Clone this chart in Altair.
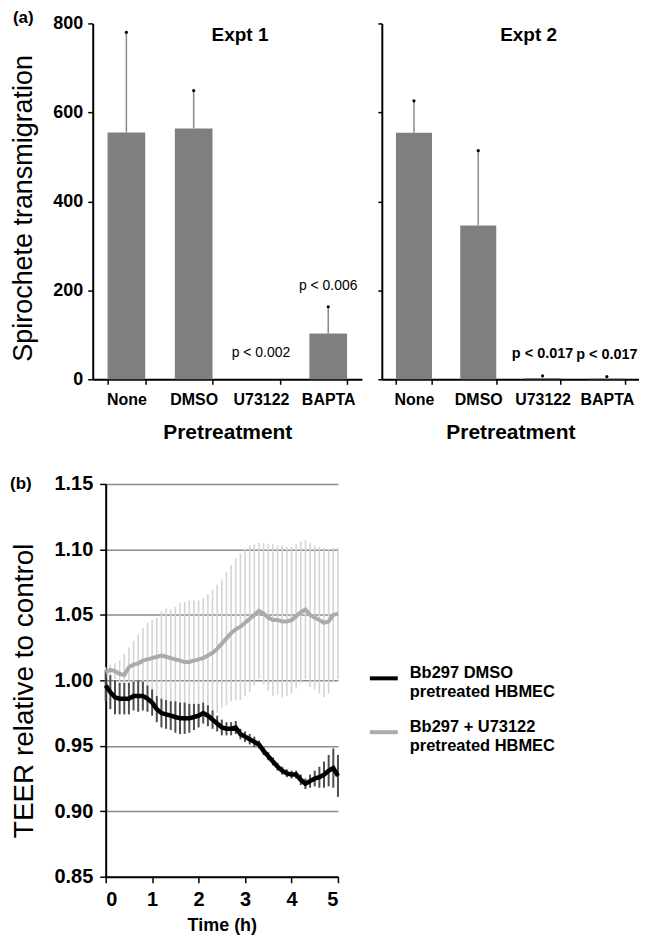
import altair as alt
import pandas as pd

# ---------------- Panel (a) data ----------------
categories = ["None", "DMSO", "U73122", "BAPTA"]
expt1_mean = [555, 564, 0, 103]
expt1_err = [225, 85, 0, 60]
expt2_mean = [554, 346, 3, 2]
expt2_err = [72, 168, 5, 4]
expt1_pvals = ["", "", "p < 0.002", "p < 0.006"]
expt2_pvals = ["", "", "p < 0.017", "p < 0.017"]

# ---------------- Panel (b) data ----------------
time_h = [0.0, 0.1, 0.2, 0.3, 0.4, 0.5, 0.6, 0.7, 0.8, 0.9,
          1.0, 1.1, 1.2, 1.3, 1.4, 1.5, 1.6, 1.7, 1.8, 1.9,
          2.0, 2.1, 2.2, 2.3, 2.4, 2.5, 2.6, 2.7, 2.8, 2.9,
          3.0, 3.1, 3.2, 3.3, 3.4, 3.5, 3.6, 3.7, 3.8, 3.9,
          4.0, 4.1, 4.2, 4.3, 4.4, 4.5, 4.6, 4.7, 4.8, 4.9,
          5.0]
dmso_mean = [0.996, 0.991, 0.987, 0.986, 0.986, 0.986, 0.988, 0.988, 0.988, 0.986,
             0.983, 0.978, 0.975, 0.974, 0.973, 0.972, 0.971, 0.971, 0.971, 0.972,
             0.973, 0.975, 0.973, 0.970, 0.967, 0.964, 0.963, 0.963, 0.964, 0.959,
             0.957, 0.955, 0.953, 0.951, 0.946, 0.942, 0.938, 0.934, 0.931, 0.929,
             0.928, 0.928, 0.924, 0.921, 0.923, 0.925, 0.926, 0.928, 0.931, 0.933,
             0.927]
dmso_err = [0.012, 0.013, 0.013, 0.012, 0.012, 0.012, 0.011, 0.012, 0.011, 0.010,
            0.010, 0.010, 0.011, 0.011, 0.011, 0.012, 0.012, 0.012, 0.011, 0.010,
            0.009, 0.008, 0.008, 0.007, 0.006, 0.006, 0.005, 0.005, 0.005, 0.004,
            0.004, 0.004, 0.004, 0.003, 0.003, 0.003, 0.003, 0.003, 0.003, 0.003,
            0.003, 0.003, 0.004, 0.004, 0.005, 0.006, 0.008, 0.010, 0.012, 0.015,
            0.016]
u73122_mean = [1.006, 1.008, 1.007, 1.005, 1.004, 1.010, 1.012, 1.013, 1.015, 1.016,
               1.017, 1.018, 1.019, 1.018, 1.017, 1.016, 1.015, 1.014, 1.014, 1.015,
               1.016, 1.017, 1.019, 1.021, 1.024, 1.028, 1.032, 1.036, 1.039, 1.041,
               1.044, 1.047, 1.050, 1.053, 1.051, 1.048, 1.046, 1.046, 1.045, 1.045,
               1.046, 1.049, 1.052, 1.054, 1.050, 1.048, 1.046, 1.044, 1.045, 1.050,
               1.051]
u73122_err = [0.004, 0.004, 0.006, 0.010, 0.016, 0.015, 0.018, 0.022, 0.025, 0.028,
              0.029, 0.030, 0.034, 0.037, 0.037, 0.040, 0.044, 0.046, 0.047, 0.046,
              0.045, 0.046, 0.047, 0.048, 0.049, 0.049, 0.051, 0.052, 0.054, 0.056,
              0.056, 0.056, 0.054, 0.052, 0.054, 0.056, 0.058, 0.057, 0.058, 0.057,
              0.056, 0.055, 0.054, 0.053, 0.055, 0.055, 0.056, 0.057, 0.055, 0.051,
              0.050]
series_names = ["Bb297  DMSO|pretreated HBMEC", "Bb297 + U73122|pretreated HBMEC"]

FONT = "Liberation Sans"


def spacer():
    return alt.Chart(pd.DataFrame({"a": [0]})).mark_rule(opacity=0).encode(
        x=alt.value(0), y=alt.value(0), y2=alt.value(1)).properties(width=1, height=1)


def bar_panel(mean, err, pvals, title, width, first, pbold, pdys, title_dx):
    df = pd.DataFrame({"cat": categories, "m": mean, "e": err, "p": pvals})
    base = alt.Chart(df).transform_calculate(top="datum.m + datum.e")
    xenc = alt.X(
        "cat:N", sort=categories,
        scale=alt.Scale(paddingInner=0.44, paddingOuter=0.22),
        axis=alt.Axis(title="Pretreatment", labelAngle=0, tickBand="extent",
                      tickSize=5, labelPadding=7, labelFontSize=16,
                      labelFontWeight="bold", titleFontSize=21,
                      titleFontWeight="bold", titlePadding=14),
    )
    if first:
        yaxis = alt.Axis(values=[0, 200, 400, 600, 800], grid=False, tickSize=5,
                         labelPadding=5, labelFontSize=18, labelFontWeight="bold",
                         title="Spirochete transmigration", titleFontSize=27,
                         titleFontWeight="normal", titleX=-69, titleY=185,
                         titleAngle=-90, titleAlign="center",
                         titleBaseline="middle")
    else:
        yaxis = alt.Axis(values=[0, 200, 400, 600, 800], grid=False, tickSize=4,
                         labels=False, title=None)
    yenc = alt.Y("m:Q", scale=alt.Scale(domain=[0, 800], nice=False), axis=yaxis)

    bars = base.mark_bar(color="#7f7f7f").encode(x=xenc, y=yenc)
    err_rule = base.mark_rule(color="#8a8a8a", strokeWidth=1.5).encode(
        x=xenc, y=yenc, y2="top:Q")
    caps = base.transform_filter("datum.e > 0").mark_circle(
        color="black", size=10, opacity=1).encode(x=xenc, y="top:Q")
    layers = [bars, err_rule, caps]
    for cat, dy in pdys:
        lab = base.transform_filter(alt.datum.cat == cat).mark_text(
            fontSize=14.5 if pbold else 14,
            fontWeight="bold" if pbold else "normal",
            color="black", dy=dy).encode(x=xenc, y="top:Q", text="p:N")
        layers.append(lab)
    ttl = alt.Chart(pd.DataFrame({"lab": [title]})).mark_text(
        fontSize=19, fontWeight="bold", color="black", dx=title_dx).encode(
        x=alt.datum("U73122"), y=alt.datum(773), text="lab:N")
    layers.append(ttl)
    if first:
        panel_lab = alt.Chart(pd.DataFrame({"lab": ["(a)"]})).mark_text(
            align="left", baseline="middle", fontSize=17, fontWeight="bold",
            color="black").encode(x=alt.value(-80), y=alt.value(-5), text="lab:N")
        layers.append(panel_lab)
    return alt.layer(*layers).properties(width=width, height=357)


expt1 = bar_panel(expt1_mean, expt1_err, expt1_pvals, "Expt 1", 270, True, False,
                  [("U73122", -26), ("BAPTA", -21)], -21)
expt2 = bar_panel(expt2_mean, expt2_err, expt2_pvals, "Expt 2", 258, False, True,
                  [("U73122", -22), ("BAPTA", -22)], -14)
top_inner = alt.hconcat(expt1, expt2, spacing=15)
top_row = alt.hconcat(spacer(), top_inner, spacing=0)

# ---------------- Panel (b) ----------------
dfb = pd.concat([
    pd.DataFrame({"t": time_h, "m": dmso_mean, "e": dmso_err, "s": series_names[0]}),
    pd.DataFrame({"t": time_h, "m": u73122_mean, "e": u73122_err, "s": series_names[1]}),
], ignore_index=True)
base_b = alt.Chart(dfb).transform_calculate(lo="datum.m - datum.e",
                                            hi="datum.m + datum.e")
xb = alt.X("t:Q", scale=alt.Scale(domain=[0, 5], nice=False),
           axis=alt.Axis(values=[0, 1, 2, 3, 4, 5], format="d", grid=False,
                         title="Time (h)", tickSize=6, labelPadding=7,
                         labelFontSize=20, labelFontWeight="bold",
                         titleFontSize=18, titleFontWeight="bold",
                         titlePadding=7))
yaxis_b = alt.Axis(values=[0.85, 0.90, 0.95, 1.00, 1.05, 1.10, 1.15], format=".2f",
                   grid=True, gridColor="#8c8c8c", gridWidth=1.5, gridOpacity=1,
                   tickSize=6, labelPadding=7, labelFontSize=20,
                   labelFontWeight="bold", title="TEER relative to control",
                   titleFontSize=28, titleFontWeight="normal", titleX=-81,
                   titleY=207, titleAngle=-90, titleAlign="center",
                   titleBaseline="middle")
yscale_b = alt.Scale(domain=[0.85, 1.15], nice=False, zero=False)

color_enc = alt.Color(
    "s:N",
    scale=alt.Scale(domain=series_names, range=["#000000", "#ababab"]),
    legend=alt.Legend(title=None, orient="none", legendX=360, legendY=179,
                      symbolType="stroke", symbolStrokeWidth=4, symbolSize=784,
                      labelExpr="split(datum.label, '|')", labelFontSize=16.5,
                      labelFontWeight="bold", labelFont=FONT, labelColor="black",
                      labelLimit=0, labelOffset=10, labelBaseline="alphabetic",
                      rowPadding=16, padding=0),
)

err_u = base_b.transform_filter(alt.datum.s == series_names[1]).mark_rule(
    color="#d4d4d4", strokeWidth=1.6).encode(
    x=xb, y=alt.Y("lo:Q", scale=yscale_b, axis=yaxis_b), y2="hi:Q")
err_d = base_b.transform_filter(alt.datum.s == series_names[0]).mark_rule(
    color="#4d4d4d", strokeWidth=2).encode(
    x=xb, y=alt.Y("lo:Q", scale=yscale_b, axis=yaxis_b), y2="hi:Q")
line_u = base_b.transform_filter(alt.datum.s == series_names[1]).mark_line(
    strokeWidth=4).encode(x=xb, y=alt.Y("m:Q", scale=yscale_b, axis=yaxis_b),
                          color=color_enc)
line_d = base_b.transform_filter(alt.datum.s == series_names[0]).mark_line(
    strokeWidth=4.5).encode(x=xb, y=alt.Y("m:Q", scale=yscale_b, axis=yaxis_b),
                            color=color_enc)
panel_b_lab = alt.Chart(pd.DataFrame({"lab": ["(b)"]})).mark_text(
    align="left", baseline="middle", fontSize=17, fontWeight="bold",
    color="black").encode(x=alt.value(-96), y=alt.value(0), text="lab:N")

bottom = alt.layer(err_u, err_d, line_u, line_d, panel_b_lab).properties(
    width=233, height=394)
bottom_row = alt.hconcat(spacer(), bottom, spacing=0)

chart = alt.vconcat(top_row, bottom_row, spacing=32).properties(
    padding={"left": 1, "top": 0, "right": 0, "bottom": 0}
).resolve_scale(color="independent").resolve_legend(color="independent").configure(
    font=FONT).configure_view(stroke=None).configure_axis(
    domainColor="black", domainWidth=2, tickColor="black", tickWidth=1.5,
    labelColor="black", titleColor="black", labelFont=FONT, titleFont=FONT)

chart.save("out.html", embed_options={"renderer": "svg", "actions": False})
